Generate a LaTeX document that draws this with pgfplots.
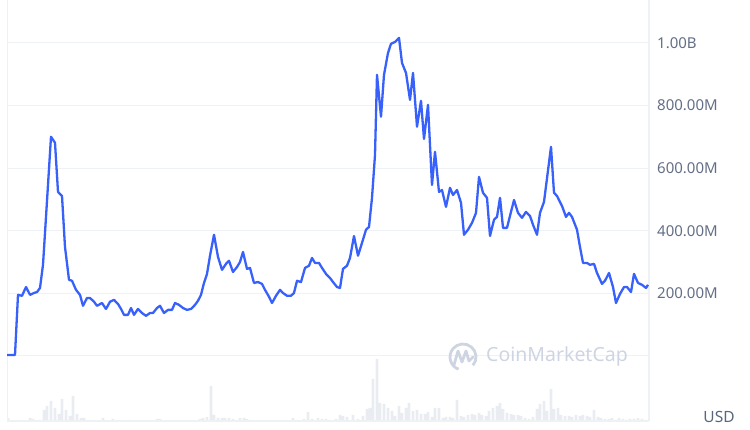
\documentclass[border=0pt]{standalone}
\usepackage{fontspec}
\setmainfont{Noto Sans}
\usepackage{pgfplots}
\pgfplotsset{compat=1.18}
\definecolor{linecol}{RGB}{56,97,251}
\definecolor{gridcol}{RGB}{239,242,245}
\definecolor{volcol}{RGB}{233,237,242}
\definecolor{labcol}{RGB}{100,111,134}
\definecolor{usdcol}{RGB}{88,102,126}
\definecolor{wmcol}{RGB}{206,212,226}
\begin{document}
\begin{tikzpicture}
\path[use as bounding box] (-7pt,-9pt) rectangle (743pt,421pt);
% volume bars
\begin{axis}[at={(0pt,0pt)}, anchor=south west, scale only axis,
  width=642pt, height=421pt, xmin=7, xmax=649, ymin=0, ymax=421,
  axis lines=none, clip=true]
\addplot[ybar, bar width=2.6pt, fill=volcol, draw=none] coordinates {
(8,3)(30,3)(33,2)(37,1)(40,1)(44,11)(47,15)(51,20)(55,13)(59,7)(62,22)(66,11)(70,5)(73,25)(77,7)(81,3)(84,3)(88,1)
(103,3)(113,2)(117,1)(128,1)(131,1)(139,1)(150,1)(157,2)(160,2)(200,2)(203,3)(207,4)(211,35)(214,6)(218,3)(222,3)
(225,3)(229,3)(233,2)(240,3)(244,3)(247,2)(251,1)(262,1)(266,1)(280,1)(293,3)(297,1)(304,2)(308,9)(312,2)(318,3)
(322,2)(326,2)(330,1)(336,2)(340,6)(343,5)(347,4)(353,6)(358,2)(363,5)(367,12)(370,13)(373,42)(377,62)(380,18)
(384,17)(388,13)(392,10)(395,5)(399,15)(402,8)(406,13)(409,18)(413,10)(417,11)(421,7)(425,7)(428,9)(432,4)(435,13)
(439,13)(443,3)(446,4)(450,4)(453,3)(457,21)(461,5)(464,4)(468,6)(472,7)(475,6)(479,8)(482,6)(486,5)(489,10)
(493,13)(497,15)(500,18)(503,12)(507,8)(511,7)(514,6)(518,6)(521,5)(525,3)(529,2)(533,4)(537,12)(540,17)(544,20)
(547,10)(551,32)(554,12)(558,13)(561,6)(565,5)(569,5)(572,4)(576,6)(580,5)(583,6)(587,5)(590,4)(594,11)(598,4)
(601,3)(605,2)(609,2)(612,3)(616,1)(619,3)(623,2)(627,1)(630,2)(634,2)(638,3)(642,2)(646,1)
};
\end{axis}
% price line
\begin{axis}[at={(0pt,0pt)}, anchor=south west, scale only axis,
  width=642pt, height=421pt, xmin=7, xmax=649, ymin=-208, ymax=1137,
  axis line style={draw=none}, xtick=\empty,
  ytick={0,200,400,600,800,1000},
  yticklabels={,200.00M,400.00M,600.00M,800.00M,1.00B},
  yticklabel pos=right, major tick length=0pt,
  ymajorgrids, grid style={draw=gridcol, line width=0.9pt},
  yticklabel style={anchor=west, inner sep=0pt, xshift=8pt, text=labcol, font=\fontsize{15}{17}\selectfont},
  clip=false]
\draw[gridcol, line width=0.9pt] (axis cs:7,-208) -- (axis cs:7,1137);
\draw[gridcol, line width=1.2pt] (axis cs:649,-208) -- (axis cs:649,1137);
\draw[gridcol, line width=1.2pt] (axis cs:7,-208) -- (axis cs:649,-208);
\addplot[linecol, line width=2.3pt, line join=round, mark=none] coordinates {
(7,3)(15,3)(18,195)(22,192)(26,220)(30,195)(34,201)(37,204)(40,217)(43,291)(46,444)(51,700)(55,681)(58,524)(62,511)
(65,348)(69,243)(72,240)(76,211)(80,195)(83,160)(87,185)(90,185)(94,173)(97,160)(102,169)(106,150)(110,173)(114,179)
(118,166)(121,150)(124,131)(128,131)(131,153)(134,131)(138,150)(142,137)(146,128)(150,137)(153,137)(157,153)(160,160)
(164,137)(168,147)(172,147)(175,169)(179,163)(183,153)(187,147)(191,150)(195,163)(198,176)(201,195)(204,233)(207,262)
(210,320)(214,387)(218,316)(222,275)(226,294)(229,304)(233,268)(237,284)(240,300)(243,332)(247,278)(250,281)(254,233)
(258,236)(262,230)(265,211)(269,189)(272,169)(276,192)(280,211)(283,201)(287,192)(291,192)(294,201)(297,240)(301,236)
(305,281)(309,288)(312,313)(315,297)(319,297)(322,281)(326,262)(330,249)(333,236)(337,220)(340,217)(343,278)(347,288)
(350,313)(354,383)(358,320)(362,361)(366,403)(369,412)(372,505)(375,642)(377,898)(381,764)(384,898)(388,968)(391,997)
(395,1003)(399,1016)(402,936)(406,904)(410,818)(413,904)(417,732)(421,815)(424,693)(428,802)(432,546)(435,652)(439,524)
(442,530)(446,476)(450,537)(453,514)(457,530)(461,489)(464,387)(468,403)(472,425)(476,457)(479,572)(483,521)(487,505)
(490,383)(494,435)(497,444)(500,505)(503,409)(507,409)(514,498)(518,457)(522,441)(526,460)(530,447)(533,419)(537,387)
(540,457)(544,492)(551,668)(554,521)(557,511)(562,479)(566,444)(569,457)(572,444)(577,403)(580,348)(583,297)(587,297)
(590,291)(594,294)(597,265)(602,230)(605,240)(609,265)(613,220)(616,169)(620,198)(624,220)(627,220)(631,204)(634,262)
(638,233)(642,227)(646,217)(648,227)
};
\end{axis}
% watermark
\begin{scope}[wmcol]
\draw[line width=2.8pt] (456pt,64pt) ++(-40:13pt) arc[start angle=-40, end angle=250, radius=13pt];
\draw[line width=2.8pt, line join=round, line cap=round] (447pt,56pt) -- (451pt,70pt) -- (455pt,59pt) -- (459pt,70pt) -- (462pt,60pt) -- (466pt,64pt);
\node[anchor=west, inner sep=0pt, font=\fontsize{19.5}{22}\selectfont] at (479pt,65pt) {CoinMarketCap};
\end{scope}
\node[anchor=center, inner sep=0pt, text=usdcol, font=\bfseries\fontsize{15.5}{17}\selectfont] at (712pt,4pt) {USD};
\end{tikzpicture}
\end{document}
